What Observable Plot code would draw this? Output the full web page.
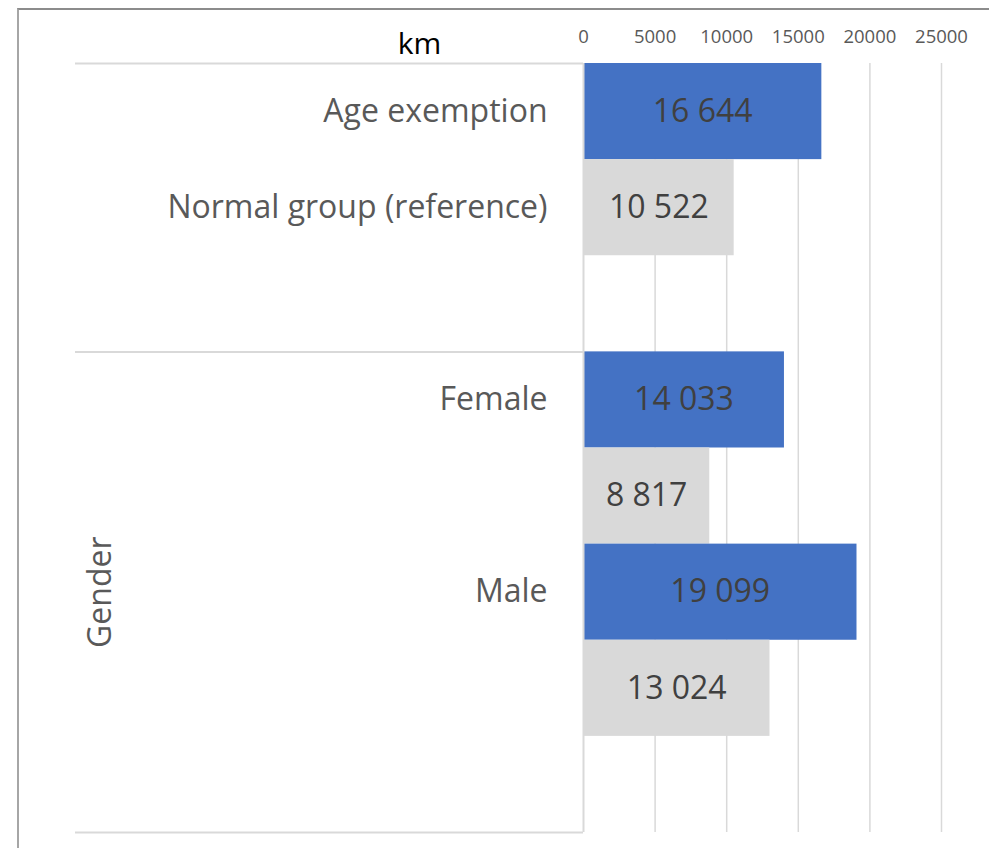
<!DOCTYPE html>
<html>
<head>
<meta charset="utf-8">
<script src="https://cdn.jsdelivr.net/npm/d3@7"></script>
<script src="https://cdn.jsdelivr.net/npm/@observablehq/plot@0.6"></script>
<style>
  body { margin: 0; background: #fff; }
  #wrap { position: relative; width: 989px; height: 848px; overflow: hidden; }
  #wrap svg { position: absolute; left: 0; top: 0; }
  #border { position: absolute; left: 17px; top: 8px; right: 0; bottom: 0;
            border-top: 2px solid #8c8c8c; border-left: 2px solid #a6a6a6; pointer-events: none; }
</style>
</head>
<body>
<div id="wrap"><div id="border"></div></div>
<script>
// ---- data ----
const rowLabels = ["Age exemption", "Normal group (reference)", "", "Female", "", "Male", "", ""];
const rowValues = [16644, 10522, null, 14033, 8817, 19099, 13024, null];
const rowSeries = ["Age exemption", "Reference", null, "Age exemption", "Reference", "Age exemption", "Reference", null];
const groupNames = ["", "Gender"];
const groupStart = [0, 3];
const groupEnd = [3, 8];
const xTicks = [0, 5000, 10000, 15000, 20000, 25000];
const axisTitle = "km";
const seriesNames = ["Age exemption", "Reference"];
const seriesColors = ["#4472C4", "#D9D9D9"];

// ---- tables ----
const rows = rowLabels.map((label, i) => ({row: i, label, value: rowValues[i], series: rowSeries[i]}));
const bars = rows.filter(d => d.value != null);
const labels = rows.filter(d => d.label);
const groups = groupNames.map((name, i) => ({name, from: groupStart[i], to: groupEnd[i]}));
const boundaries = [...new Set(groups.flatMap(g => [g.from, g.to]))];

const spaceFmt = d3.formatLocale({decimal: ".", thousands: " ", grouping: [3], currency: ["", ""]}).format(",");

const W = 989, ML = 75, MR = 48, X0 = 583;

const chart = Plot.plot({
  width: W,
  height: 848,
  marginLeft: ML,
  marginRight: MR,
  marginTop: 63,
  marginBottom: 16,
  style: {fontFamily: "'Open Sans', sans-serif", fontSize: "17px", color: "#595959", background: "transparent"},
  x: {domain: [0, 25000], range: [X0, W - MR], axis: null},
  y: {domain: [0, 8], reverse: true, axis: null},
  color: {domain: seriesNames, range: seriesColors},
  marks: [
    Plot.text(xTicks, {x: d => d, frameAnchor: "top", dy: -21, lineAnchor: "bottom",
      text: d => String(d), fontSize: 18.5, fill: "#595959"}),
    Plot.ruleX(xTicks.filter(t => t > 0), {stroke: "#d9d9d9", strokeWidth: 1.5}),
    Plot.rectX(bars, {x: "value", y1: "row", y2: d => d.row + 1, fill: "series"}),
    Plot.ruleX([0], {stroke: "#d9d9d9", strokeWidth: 2}),
    Plot.ruleY(boundaries, {stroke: "#d9d9d9", strokeWidth: 2, insetRight: (W - MR) - X0}),
    Plot.text(labels, {x: 0, y: d => d.row + 0.5, text: "label", dx: -36, textAnchor: "end",
      fontSize: 32, fill: "#595959"}),
    Plot.text(bars, {x: d => d.value / 2, y: d => d.row + 0.5, text: d => spaceFmt(d.value),
      fontSize: 32, fill: "#404040"}),
    Plot.text(groups.filter(g => g.name), {y: d => (d.from + d.to) / 2, text: "name", frameAnchor: "left",
      textAnchor: "middle", dx: 25, rotate: -90, fontSize: 32, fill: "#595959"}),
    Plot.text([axisTitle], {frameAnchor: "top-left", textAnchor: "middle", dx: 344, dy: -10, lineAnchor: "bottom",
      text: d => d, fontSize: 30, fill: "#000"})
  ]
});
document.getElementById("wrap").prepend(chart);
</script>
</body>
</html>
